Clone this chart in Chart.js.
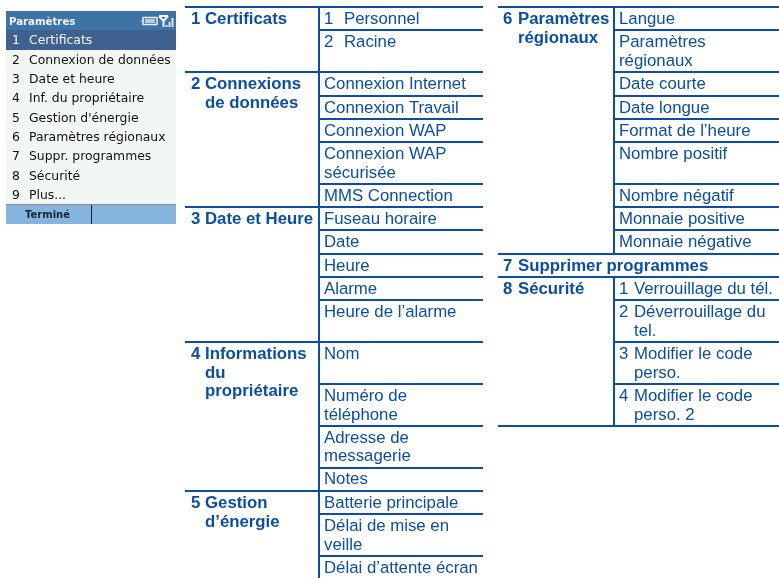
<!DOCTYPE html>
<html>
<head>
<meta charset="utf-8">
<style>
  html, body { margin: 0; padding: 0; background: #fff; }
  #wrap { position: relative; width: 779px; height: 578px; }
</style>
<script src="https://cdn.jsdelivr.net/npm/chart.js@4"></script>
</head>
<body>
<div id="wrap"><canvas id="chart"></canvas></div>
<script>
// phone menu
const menuTitle = 'Paramètres';
const menuNumbers = ['1', '2', '3', '4', '5', '6', '7', '8', '9'];
const menuItems = ['Certificats', 'Connexion de données', 'Date et heure', 'Inf. du propriétaire',
  "Gestion d'énergie", 'Paramètres régionaux', 'Suppr. programmes', 'Sécurité', 'Plus...'];
const menuBaselines = [44, 64, 83, 102, 122, 141, 160, 180, 199];
const softKey = 'Terminé';

// rules of the two tables
const leftMajorRows = [7, 72, 207, 342, 491];
const leftMinorRows = [30, 96, 119, 142, 184, 230, 254, 277, 300, 384, 426, 468, 514, 556];
const rightMajorRows = [7, 254, 277, 426];
const rightMinorRows = [30, 72, 96, 119, 142, 184, 207, 230, 300, 342, 384];

// [number, text, baseline]
const leftHeads = [
  ['1', 'Certificats', 23.5], ['2', 'Connexions', 88.5], ['', 'de données', 107.5], ['3', 'Date et Heure', 223.5],
  ['4', 'Informations', 358.5], ['', 'du', 377.5], ['', 'propriétaire', 395.5], ['5', 'Gestion', 507.5], ['', 'd’énergie', 526.5]
];
const leftNumbered = [['1', 'Personnel', 23.5], ['2', 'Racine', 46.5]];
const leftCells = [
  ['Connexion Internet', 88.5], ['Connexion Travail', 112.5],
  ['Connexion WAP', 135.5], ['Connexion WAP', 158.5], ['sécurisée', 177.5], ['MMS Connection', 200.5],
  ['Fuseau horaire', 223.5], ['Date', 246.5], ['Heure', 270.5], ['Alarme', 293.5], ['Heure de l’alarme', 316.5],
  ['Nom', 358.5], ['Numéro de', 400.5], ['téléphone', 419.5], ['Adresse de', 442.5], ['messagerie', 460.5],
  ['Notes', 483.5], ['Batterie principale', 507.5], ['Délai de mise en', 530.5], ['veille', 549.5], ['Délai d’attente écran', 572.5]
];
const rightHeads = [
  ['6', 'Paramètres', 23.5], ['', 'régionaux', 42.5], ['7', 'Supprimer programmes', 270.5], ['8', 'Sécurité', 293.5]
];
const rightCells = [
  ['Langue', 23.5], ['Paramètres', 46.5], ['régionaux', 65.5], ['Date courte', 88.5], ['Date longue', 112.5],
  ['Format de l’heure', 135.5], ['Nombre positif', 158.5], ['Nombre négatif', 200.5], ['Monnaie positive', 223.5],
  ['Monnaie négative', 246.5]
];
const rightNumbered = [
  ['1', 'Verrouillage du tél.', 293.5], ['2', 'Déverrouillage du', 316.5], ['', 'tel.', 335.5],
  ['3', 'Modifier le code', 358.5], ['', 'perso.', 377.5], ['4', 'Modifier le code', 400.5], ['', 'perso. 2', 419.5]
];

// status icons in the title bar, [x0, y0, x1, y1]
const batterySegments = [[143, 17.5, 157, 17.5], [143, 24.5, 157, 24.5], [143, 17, 143, 25], [157, 17, 157, 25], [141.5, 21, 143, 21]];
const batteryFill = [[145, 21, 155, 21]];
const antennaSegments = [[159, 16, 168, 16], [159, 16, 163.5, 21], [168, 16, 163.5, 21], [163.5, 21, 163.5, 27]];
const signalBars = [[166.5, 27, 166.5, 25], [169.5, 27, 169.5, 22], [172.5, 27, 172.5, 18]];

const blue = '#0b4ea2';

function segment(x0, y0, x1, y1, color, width) {
  return { type: 'line', data: [{ x: x0, y: y0 }, { x: x1, y: y1 }], borderColor: color, borderWidth: width, pointRadius: 0, fill: false };
}
// filled band, top edge plus fill down to the lower value
function band(x0, x1, y0, y1, color) {
  return { type: 'line', data: [{ x: x0, y: y0 }, { x: x1, y: y0 }], borderWidth: 0, pointRadius: 0,
    backgroundColor: color, fill: { target: { value: y1 } } };
}

// later entries paint first, so the list runs from top layer to bottom layer
const datasets = [
  ...leftMajorRows.map(y => segment(185, y, 483, y, blue, 2)),
  ...leftMinorRows.map(y => segment(319, y, 483, y, blue, 2)),
  ...rightMajorRows.map(y => segment(498, y, 779, y, blue, 2)),
  ...rightMinorRows.map(y => segment(614, y, 779, y, blue, 2)),
  segment(319, 7, 319, 578, blue, 2),
  segment(614, 7, 614, 254, blue, 2),
  segment(614, 277, 614, 426, blue, 2),
  ...batterySegments.map(s => segment(...s, '#eef3f7', 1.5)),
  ...batteryFill.map(s => segment(...s, '#b9cbdb', 4)),
  ...antennaSegments.map(s => segment(...s, '#f2f6f9', 2)),
  ...signalBars.map(s => segment(...s, '#dfe8ef', 2)),
  segment(6, 204.5, 176, 204.5, '#8a9088', 1),
  segment(91.5, 205, 91.5, 224, '#10243c', 1),
  band(6, 176, 205, 224, '#85b5dc'),
  band(6, 176, 30, 50, '#40618f'),
  band(6, 176, 11, 30, '#3b74a5'),
  band(6, 176, 11, 224, '#f3f7f3')
];

const textPlugin = {
  id: 'tableText',
  afterDatasetsDraw(chart) {
    const { ctx, scales: { x, y } } = chart;
    const put = (str, px, py, font, color) => {
      ctx.font = font;
      ctx.fillStyle = color;
      ctx.fillText(str, x.getPixelForValue(px), y.getPixelForValue(py));
    };
    ctx.save();
    ctx.textBaseline = 'alphabetic';
    const head = 'bold 16.8px "Liberation Sans"';
    const cell = '16.8px "Liberation Sans"';
    const ui = '12.4px "DejaVu Sans"';

    put(menuTitle, 9, 25, 'bold 10.2px "DejaVu Sans"', '#eef4fa');
    menuItems.forEach((item, i) => {
      const color = i === 0 ? '#f4f7fa' : '#111';
      put(menuNumbers[i], 12, menuBaselines[i], ui, color);
      put(item, 29, menuBaselines[i], ui, color);
    });
    put(softKey, 25, 218, 'bold 10px "DejaVu Sans"', '#17263a');

    leftHeads.forEach(([n, t, b]) => {
      if (n) put(n, 191, b, head, blue);
      put(t, 205, b, head, blue);
    });
    leftNumbered.forEach(([n, t, b]) => {
      put(n, 324, b, cell, blue);
      put(t, 344, b, cell, blue);
    });
    leftCells.forEach(([t, b]) => put(t, 324, b, cell, blue));
    rightHeads.forEach(([n, t, b]) => {
      if (n) put(n, 503, b, head, blue);
      put(t, 518, b, head, blue);
    });
    rightCells.forEach(([t, b]) => put(t, 619, b, cell, blue));
    rightNumbered.forEach(([n, t, b]) => {
      if (n) put(n, 619, b, cell, blue);
      put(t, 634, b, cell, blue);
    });
    ctx.restore();
  }
};

new Chart(document.getElementById('chart'), {
  type: 'line',
  data: { datasets },
  options: {
    responsive: true,
    maintainAspectRatio: false,
    animation: false,
    parsing: false,
    layout: { padding: 0 },
    plugins: { legend: { display: false }, tooltip: { enabled: false } },
    scales: {
      x: { type: 'linear', display: false, min: 0, max: 779 },
      y: { type: 'linear', display: false, min: 0, max: 578, reverse: true }
    }
  },
  plugins: [textPlugin]
});
</script>
</body>
</html>
